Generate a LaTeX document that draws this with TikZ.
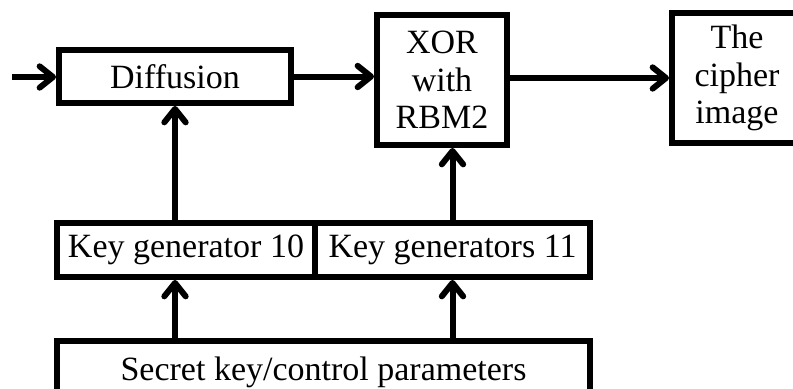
\documentclass[tikz,border=0pt]{standalone}
\usepackage{fontspec}
\setmainfont{Liberation Serif}
\usetikzlibrary{arrows.meta}
\tikzset{
  blk/.style={draw, line width=4.5pt, rectangle, inner sep=0pt, align=center,
    font=\fontsize{25.5}{28}\selectfont},
  flow/.style={line width=4.5pt, -{Straight Barb[length=10pt, width=16pt, line cap=round, line join=round]}}
}
\begin{document}
\begin{tikzpicture}[x=0.75pt, y=-0.75pt]
  \useasboundingbox (0,0) rectangle (793,389);
  \clip (0,0) rectangle (793,389);

  % processing chain
  \node[blk, minimum width=174pt, minimum height=39.75pt] (diff) at (175,76.5) {Diffusion};
  \node[blk, minimum width=97.5pt, minimum height=97.5pt] (xor) at (442,80) {XOR\\with\\RBM2};
  \node[blk, minimum width=97.5pt, minimum height=97.5pt] (ciph) at (737,78) {The\\cipher\\image};

  % key generation
  \node[blk, minimum width=193.5pt, minimum height=40.5pt] (kg10) at (186,250) {Key generator 10};
  \node[blk, minimum width=206.25pt, minimum height=40.5pt] (kg11) at (452.5,250) {Key generators 11};
  \node[blk, minimum width=399.75pt, minimum height=46.5pt] (sec) at (323.5,372) {Secret key/control parameters};

  \coordinate (in) at (12,77);

  % connectors
  \draw[flow] (in) -- (in -| diff.west);
  \draw[flow] (diff.east) -- (diff.east -| xor.west);
  \draw[flow] (ciph.west -| xor.east) -- (ciph.west);
  \draw[flow] (kg10.north -| diff.south) -- (diff.south);
  \draw[flow] (kg11.north) -- (kg11.north |- xor.south);
  \draw[flow] (sec.north -| diff.south) -- (kg10.south -| diff.south);
  \draw[flow] (sec.north -| kg11.south) -- (kg11.south);
\end{tikzpicture}
\end{document}
